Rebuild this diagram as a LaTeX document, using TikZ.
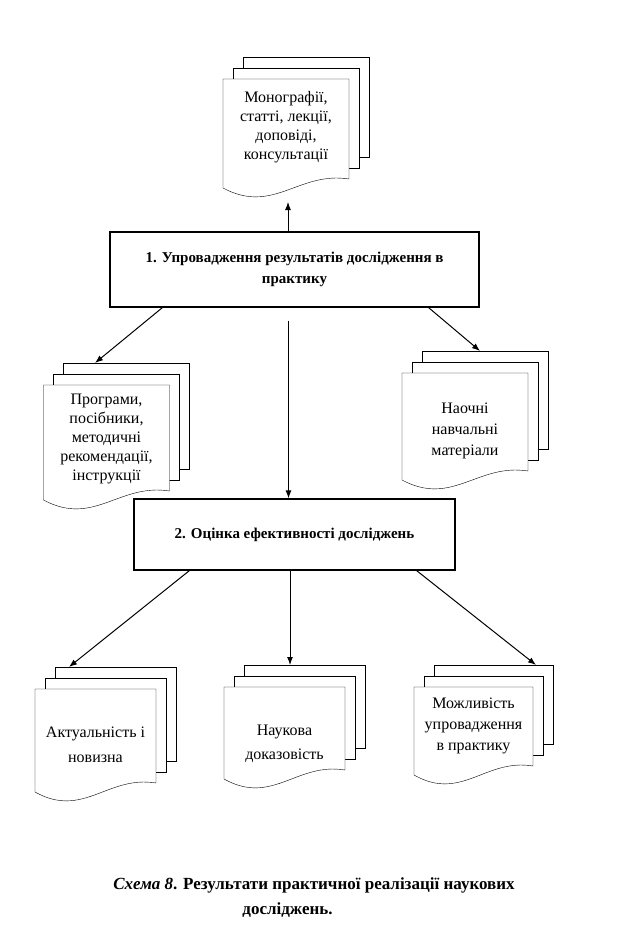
\documentclass[tikz,border=0pt]{standalone}
\usepackage{fontspec}
\setmainfont{Liberation Serif}
\usetikzlibrary{arrows.meta,calc,backgrounds}

% three sheets behind a named node, the front one with a wavy bottom
\newcommand{\paperstack}[1]{%
  \begin{scope}[on background layer]
    \foreach \k in {2,1}
      \draw[fill=white] ($(#1.north west)+(10*\k,11*\k)$) rectangle ($(#1.south east)+(10*\k,17+11*\k)$);
    \draw[fill=white] (#1.north west) -- (#1.north east) -- ($(#1.south east)+(0,17)$)
      .. controls ($(#1.south west)!0.6!(#1.south east)+(0,25)$) and ($(#1.south west)!0.4!(#1.south east)+(0,-19)$) .. ($(#1.south west)+(0,8)$) -- cycle;
  \end{scope}
  \coordinate (#1-back) at ($(#1.north)+(20,22)$);
}

\begin{document}
\begin{tikzpicture}[x=1pt,y=1pt,line width=1pt]
    \tikzset{sheet/.style= {rectangle
    , minimum width=126pt, minimum height=117pt
    , inner sep=0pt, outer sep=0pt
    , align=center
    , font=\fontsize{16}{19}\selectfont
      }
    , stage/.style= {draw, rectangle
    , line width=1.2pt, inner sep=0pt
    , align=center
    , font=\bfseries\fontsize{15}{21}\selectfont
      }
    , link/.style= {draw, line width=1pt, -{Latex[length=8pt,width=6pt]}}
    , caption/.style= {font=\bfseries\fontsize{17}{20}\selectfont}
    }
\useasboundingbox (0,0) rectangle (624,-942);

\node [stage, minimum width=369pt, minimum height=75pt] (impl) at (294.5,-269.5) {1. Упровадження результатів дослідження в\\практику};
\node [stage, minimum width=321pt, minimum height=71pt] (eval) at (294.5,-534.5) {2. Оцінка ефективності досліджень};

\node [sheet] (publ) at (286,-137.5) {Монографії,\\статті, лекції,\\доповіді,\\консультації\rule[-24pt]{0pt}{0pt}};
\node [sheet, minimum height=123pt] (manual) at (106.5,-446.5) {Програми,\\посібники,\\методичні\\рекомендації,\\інструкції\rule[-18pt]{0pt}{0pt}};
\node [sheet, minimum height=115pt, font=\fontsize{16}{21}\selectfont] (visual) at (465,-430.5) {Наочні\\навчальні\\матеріали};
\node [sheet, minimum width=121pt, minimum height=111pt, font=\fontsize{16}{25}\selectfont] (novelty) at (95.5,-744.5) {Актуальність і\\новизна};
\node [sheet, minimum width=121pt, minimum height=100pt, font=\fontsize{16}{24}\selectfont] (proof) at (284.5,-737) {\rule{0pt}{25pt}Наукова\\доказовість};
\node [sheet, minimum width=119pt, minimum height=96pt, font=\fontsize{16}{21}\selectfont] (practice) at (473.5,-735) {Можливість\\упровадження\\в практику\rule[-22pt]{0pt}{0pt}};

\foreach \s in {publ,manual,visual,novelty,proof,practice} {\paperstack{\s}}

\node [caption] (cap1) at (314,-885) {\textit{Схема 8}. Результати практичної реалізації наукових};
\node [caption] (cap2) at (287.5,-910) {досліджень.};

 \path[link, shorten >=6pt]
  ([xshift=-6.5pt]impl.north) -- ([xshift=2pt]publ.south);
 \path[link]
  ([xshift=53pt]impl.south west) -- ([xshift=-31.5pt]manual-back);
 \path[link]
  ([xshift=-51pt]impl.south east) -- ([xshift=-5pt]visual-back);
 \path[link, shorten <=13pt]
  ([xshift=-6pt]impl.south) -- ([xshift=-6pt]eval.north);
 \path[link]
  ([xshift=56pt]eval.south west) -- ([xshift=-46.5pt]novelty-back);
 \path[link]
  ([xshift=-4.5pt]eval.south) -- ([xshift=-14.5pt]proof-back);
 \path[link]
  ([xshift=-39pt]eval.south east) -- ([xshift=42.5pt]practice-back);
\end{tikzpicture}
\end{document}
